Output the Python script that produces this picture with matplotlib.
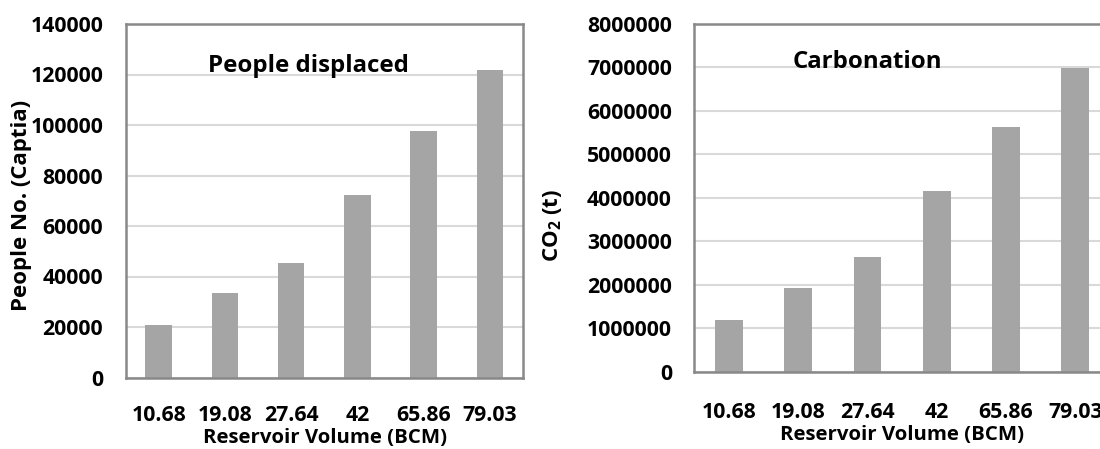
import numpy as np
import matplotlib
matplotlib.use("Agg")
import matplotlib.pyplot as plt

plt.rcParams['font.family'] = ['Open Sans', 'DejaVu Sans']
plt.rcParams['font.weight'] = 'bold'
plt.rcParams['mathtext.fontset'] = 'custom'
plt.rcParams['mathtext.rm'] = 'Open Sans:bold'

# data
volumes = ['10.68', '19.08', '27.64', '42', '65.86', '79.03']
people = [20700, 33300, 45300, 72300, 97500, 121600]
co2 = [1200000, 1920000, 2630000, 4150000, 5620000, 6990000]

people_ticks = np.arange(0, 140001, 20000)
co2_ticks = np.arange(0, 8000001, 1000000)

W, H = 1100, 449
fig = plt.figure(figsize=(W / 100, H / 100), dpi=100)

bar_color = '#a5a5a5'
spine_color = '#898989'
grid_color = '#d9d9d9'
fs = 15.3


def px(x, y):
    # pixel position (from top-left) to figure fraction
    return x / W, 1 - y / H


def setup(ax, ticks, xpad):
    x = np.arange(len(volumes))
    ax.set_xlim(-0.5, len(volumes) - 0.5)
    ax.set_ylim(ticks[0], ticks[-1])
    ax.set_yticks(ticks)
    ax.set_yticklabels([str(t) for t in ticks])
    ax.set_xticks(x)
    ax.set_xticklabels(volumes)
    ax.yaxis.grid(True, color=grid_color, linewidth=1.5)
    ax.set_axisbelow(True)
    for s in ax.spines.values():
        s.set_color(spine_color)
        s.set_linewidth(1.8)
    ax.tick_params(axis='y', length=0, pad=16, labelsize=fs)
    ax.tick_params(axis='x', length=0, pad=xpad, labelsize=fs)
    return x


# left panel
ax1 = fig.add_axes([125.5 / W, 1 - 377.5 / H, 397.5 / W, 353.5 / H])
x = setup(ax1, people_ticks, 20)
ax1.bar(x, people, width=0.4, color=bar_color, zorder=2)
fig.text(*px(308, 66), 'People displaced', ha='center', va='center', fontsize=17.3)
fig.text(*px(22, 205), 'People No. (Captia)', ha='center', va='center',
         rotation=90, fontsize=16)
fig.text(*px(325, 443), 'Reservoir Volume (BCM)', ha='center', va='baseline', fontsize=14.7)

# right panel, runs off the right edge like the original
ax2 = fig.add_axes([694.2 / W, 1 - 371.7 / H, (1110 - 694.2) / W, 347.7 / H])
x = setup(ax2, co2_ticks, 21.5)
ax2.bar(x, co2, width=0.4, color=bar_color, zorder=2)
fig.text(*px(867, 62), 'Carbonation', ha='center', va='center', fontsize=17.3)
fig.text(*px(553, 225), 'CO$_\\mathrm{2}$ (t)', ha='center', va='center',
         rotation=90, fontsize=16)
fig.text(*px(902, 440), 'Reservoir Volume (BCM)', ha='center', va='baseline', fontsize=14.7)

fig.savefig('out.png', dpi=100)
